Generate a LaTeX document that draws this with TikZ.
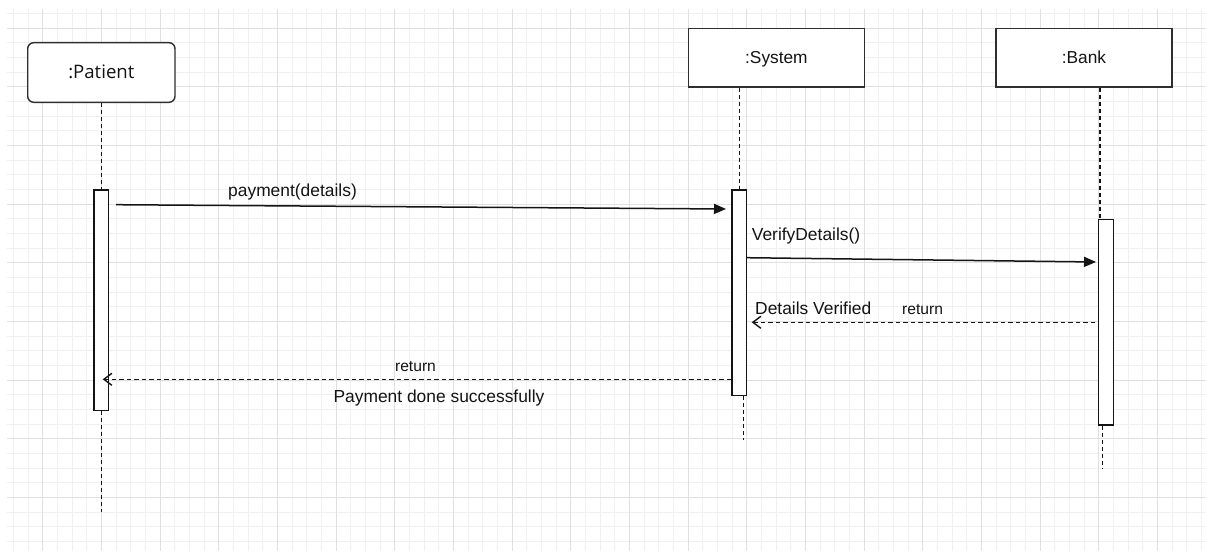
\documentclass[tikz,border=0pt]{standalone}
\usepackage{fontspec}
\setmainfont{Liberation Sans}
\newfontfamily\actorfont{Open Sans}
\usetikzlibrary{arrows.meta}
\definecolor{gridmajor}{HTML}{E0E0E0}
\definecolor{gridminor}{HTML}{F0F0F0}
\definecolor{ink}{HTML}{141414}
\definecolor{frame}{HTML}{2E2E2E}

\begin{document}
\begin{tikzpicture}[x=1pt,y=-1pt,
  gmin/.style={gridminor, line width=1pt},
  gmaj/.style={gridmajor, line width=1pt},
  actor/.style={draw=frame, line width=1.4pt, fill=white, minimum width=176pt,
    minimum height=58.7pt, inner sep=0pt, font=\fontsize{17.3}{20}\selectfont,
    text=ink, text height=12.4pt, text depth=0pt},
  act/.style={draw=ink, line width=1.4pt, fill=white, minimum width=14.7pt, inner sep=0pt},
  life/.style={ink, line width=1.4pt, dash pattern=on 4pt off 3pt},
  call/.style={ink, line width=1.5pt, -{Triangle[length=12pt,width=10pt]}},
  reply/.style={ink, line width=1.3pt, dash pattern=on 4.5pt off 3pt,
    -{Straight Barb[length=8pt,width=12pt,line width=1.4pt]}},
  lbl/.style={inner sep=0pt, text=ink, font=\fontsize{17.4}{20}\selectfont},
  rlbl/.style={inner sep=0pt, text=ink, font=\fontsize{15.6}{18}\selectfont}
]
\useasboundingbox (0,0) rectangle (1206,551);
\fill[white] (0,0) rectangle (1206,551);

% background grid: minor cells of 14.667pt, major every fourth line
\begin{scope}
  \clip (7,9) rectangle (1206,551);
  \foreach \k in {-2,...,79} \draw[gmin] ({42.7+14.667*\k},9) -- ({42.7+14.667*\k},551);
  \foreach \k in {-1,...,36} \draw[gmin] (7,{28.3+14.667*\k}) -- (1206,{28.3+14.667*\k});
  \foreach \k in {0,...,20} \draw[gmaj] ({42.7+58.667*\k},9) -- ({42.7+58.667*\k},551);
  \foreach \k in {0,...,9} \draw[gmaj] (7,{28.3+58.667*\k}) -- (1206,{28.3+58.667*\k});
\end{scope}

% participants
\node[actor, rounded corners=6pt, minimum width=147.3pt, minimum height=59.6pt,
  font=\actorfont\fontsize{18.6}{22}\selectfont] (patient) at (101.35,72.5) {:Patient};
\node[actor] (system) at (776.4,57.65) {:System};
\node[actor] (bank) at (1084,57.65) {:Bank};

% lifeline end points
\coordinate (pend) at (101.35,512);
\coordinate (send) at (743.7,440);
\coordinate (bline) at (1100,219.3);
\coordinate (bend) at (1102.7,468);

% activation bars
\node[act, minimum height=220.5pt] (pact) at (101.35,300.25) {};
\node[act, minimum height=205.5pt, minimum width=14.5pt] (sact) at (739.25,292.75) {};
\node[act, minimum height=205.7pt, minimum width=15pt] (bact) at (1106,322.15) {};

% lifelines
\draw[life] (patient.south) -- (pact.north);
\draw[life] (pact.south) -- (pend);
\draw[life] (system.south -| sact.north) -- (sact.north);
\draw[life] (sact.south -| send) -- (send);
\draw[life] (bank.south -| bline) -- (bline);
\draw[life] (bact.south -| bend) -- (bend);

% message end points
\coordinate (m1a) at (116,204.7);
\coordinate (m1b) at (726,209);
\coordinate (m2a) at (746.5,257.7);
\coordinate (m2b) at (1096,262);
\coordinate (m3a) at (1095,322.3);
\coordinate (m3b) at (751.7,322.3);
\coordinate (m4a) at (731,379.3);
\coordinate (m4b) at (102.7,379.3);

% messages
\draw[call] (m1a) -- (m1b);
\draw[call] (m2a) -- (m2b);
\draw[reply] (m3a) -- (m3b);
\draw[reply] (m4a) -- (m4b);

% message labels
\node[lbl, anchor=base west] (l1) at (228,196.8) {payment(details)};
\node[lbl, anchor=base west] (l2) at (751.7,240) {VerifyDetails()};
\node[lbl, anchor=base west] (l3) at (755,314.3) {Details Verified};
\node[rlbl, anchor=base west] (l4) at (902,314) {return};
\node[rlbl, anchor=base] (l5) at (415.5,371.7) {return};
\node[lbl, anchor=base] (l6) at (439,402.7) {Payment done successfully};
\end{tikzpicture}
\end{document}
